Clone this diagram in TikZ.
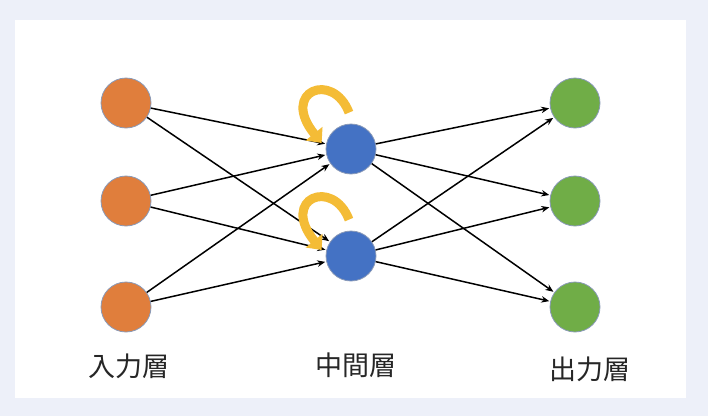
\documentclass[tikz,border=0pt]{standalone}
\usepackage{fontspec}
\newfontfamily\jpfont{Noto Sans CJK JP}
\usetikzlibrary{arrows.meta,positioning}
\definecolor{pagebg}{HTML}{EDF0F9}
\definecolor{unitin}{HTML}{E07E3C}
\definecolor{unithid}{HTML}{4472C4}
\definecolor{unitout}{HTML}{70AD47}
\definecolor{rim}{HTML}{8A9AB8}
\definecolor{loopgold}{HTML}{F4BC36}
\tikzset{
  unit/.style={circle,draw=rim,line width=0.8pt,minimum size=50pt,inner sep=0pt},
  link/.style={-{Stealth[length=8pt,width=6.5pt]},line width=1.5pt,black,shorten >=1pt},
  feedback/.style={-{Triangle[length=12pt,width=21pt]},line width=9pt,loopgold},
  layerlabel/.style={font=\jpfont\fontsize{27}{29}\selectfont,text=black!85}
}
\begin{document}
\begin{tikzpicture}[x=1pt,y=-1pt]
    \useasboundingbox (0,0) rectangle (708,416);
    \fill[pagebg] (0,0) rectangle (708,416);
    \fill[white] (15,20) rectangle (686,398);
    % input layer
    \node[unit,fill=unitin] (in1) at (126,103) {};
    \node[unit,fill=unitin] (in2) at (126,201) {};
    \node[unit,fill=unitin] (in3) at (126,307) {};
    % hidden layer
    \node[unit,fill=unithid] (hid1) at (351,149) {};
    \node[unit,fill=unithid] (hid2) at (351,256) {};
    % output layer
    \node[unit,fill=unitout] (out1) at (575,103) {};
    \node[unit,fill=unitout] (out2) at (575,201) {};
    \node[unit,fill=unitout] (out3) at (575,307) {};
    % connections
    \draw[link] (in1) -- (hid1); \draw[link] (in1) -- (hid2);
    \draw[link] (in2) -- (hid1); \draw[link] (in2) -- (hid2);
    \draw[link] (in3) -- (hid1); \draw[link] (in3) -- (hid2);
    \draw[link] (hid1) -- (out1); \draw[link] (hid1) -- (out2); \draw[link] (hid1) -- (out3);
    \draw[link] (hid2) -- (out1); \draw[link] (hid2) -- (out2); \draw[link] (hid2) -- (out3);
    % recurrent loops
    \draw[feedback] ([shift={(-2,-11)}]hid1.north) .. controls +(-16,-42) and +(-42,-52) .. ([shift={(-4,-6)}]hid1.west);
    \draw[feedback] ([shift={(-2,-11)}]hid2.north) .. controls +(-16,-42) and +(-42,-52) .. ([shift={(-4,-6)}]hid2.west);
    % labels
    \node[layerlabel] (lblin) at (129,366) {入力層};
    \node[layerlabel] (lblhid) at (356,365) {中間層};
    \node[layerlabel] (lblout) at (590,369) {出力層};
  \end{tikzpicture}
\end{document}
